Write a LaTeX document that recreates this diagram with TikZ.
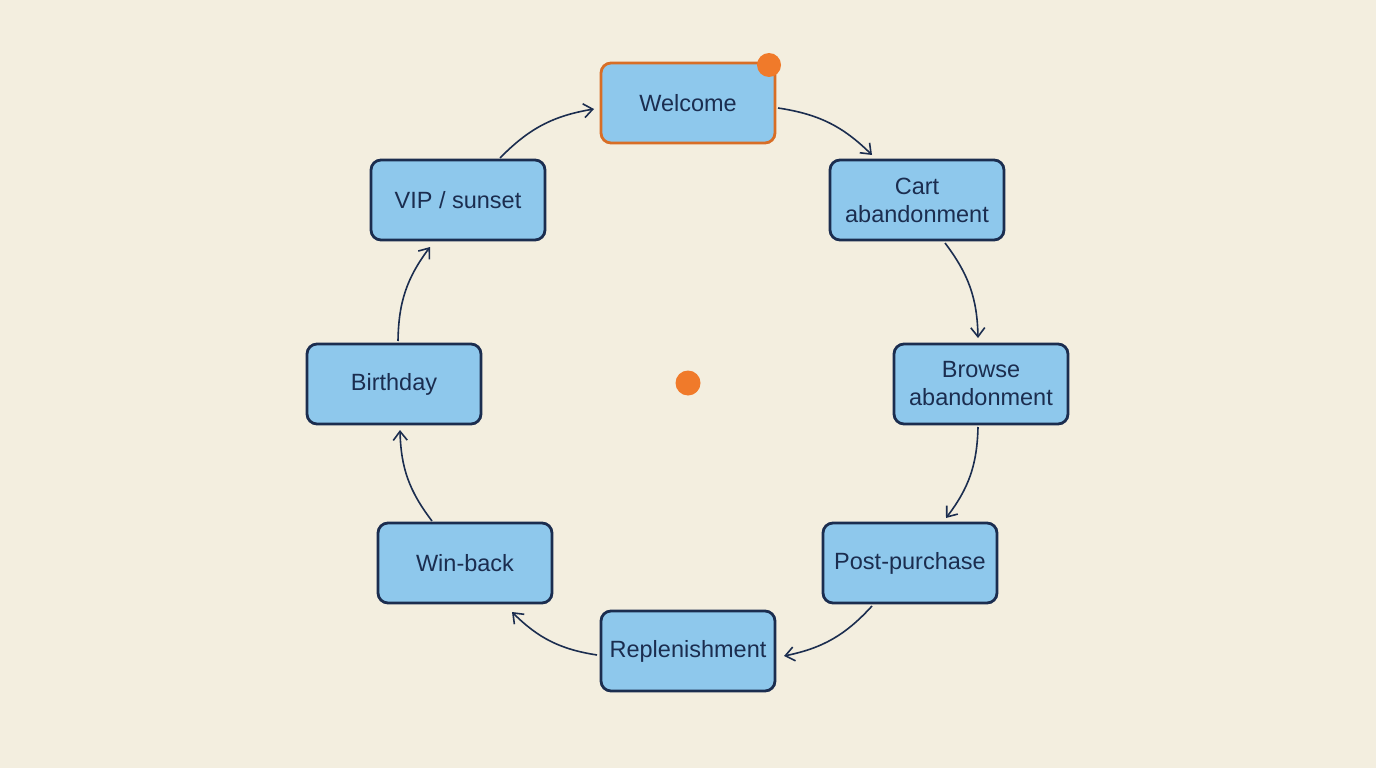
\documentclass[tikz,border=0pt]{standalone}
\usepackage{fontspec}
\setmainfont{Liberation Sans}
\usetikzlibrary{arrows.meta}
\definecolor{bg}{HTML}{F3EEDF}
\definecolor{boxfill}{HTML}{8EC8EC}
\definecolor{edge}{HTML}{1B2D4F}
\definecolor{org}{HTML}{F07A2A}
\begin{document}
\begin{tikzpicture}[x=1pt,y=-1pt,
  box/.style={draw=edge,line width=2.8pt,fill=boxfill,rounded corners=10pt,minimum width=174pt,minimum height=80pt,inner xsep=1pt,align=center,font=\fontsize{23.5}{28}\selectfont,text=edge},
  conn/.style={draw=edge,line width=1.6pt,-{Straight Barb[length=9pt,width=14pt]},bend left=18}]
\fill[bg] (0,0) rectangle (1376,768);
\useasboundingbox (0,0) rectangle (1376,768);
\node[box,draw=org!90!black] (w) at (688,103) {Welcome};
\node[box] (c) at (917,200) {Cart\\abandonment};
\node[box] (b) at (981,384) {Browse\\abandonment};
\node[box] (p) at (910,563) {Post-purchase};
\node[box] (r) at (688,651) {Replenishment};
\node[box] (wb) at (465,563) {Win-back};
\node[box] (bd) at (394,384) {Birthday};
\node[box] (v) at (458,200) {VIP / sunset};
\fill[org] (769,65) circle (12);
\node[circle,fill=org,minimum size=25pt,inner sep=0] (ctr) at (688,383) {};
\coordinate (a1) at (778,108); \coordinate (a2) at (872,155);
\coordinate (b1) at (945,243); \coordinate (b2) at (978,338);
\coordinate (c1) at (978,427); \coordinate (c2) at (946,518);
\coordinate (d1) at (872,606); \coordinate (d2) at (784,656);
\coordinate (e1) at (597,655); \coordinate (e2) at (512,612);
\coordinate (f1) at (432,521); \coordinate (f2) at (400,430);
\coordinate (g1) at (398,341); \coordinate (g2) at (430,247);
\coordinate (h1) at (500,158); \coordinate (h2) at (594,109);
\foreach \s/\t in {a1/a2,b1/b2,c1/c2,d1/d2,e1/e2,f1/f2,g1/g2,h1/h2}
  \draw[conn] (\s) to (\t);
\end{tikzpicture}
\end{document}
